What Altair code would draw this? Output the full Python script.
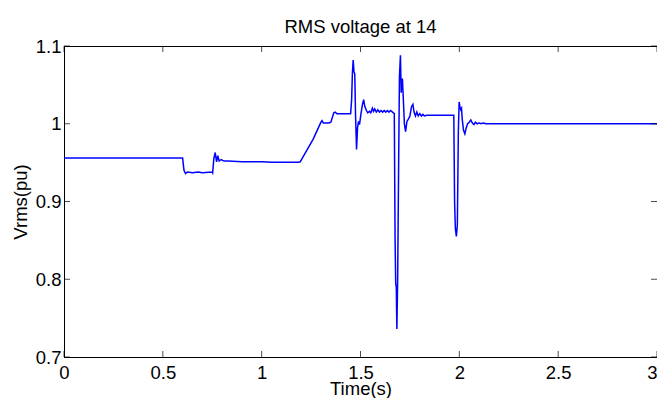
import altair as alt
import pandas as pd

# Time (s)
t = [0.000, 0.600, 0.607, 0.615, 0.625, 0.650, 0.680, 0.700, 0.750, 0.752,
     0.758, 0.765, 0.772, 0.778, 0.785, 0.795, 0.810, 0.830, 0.900, 1.000,
     1.050, 1.185, 1.195, 1.260, 1.300, 1.305, 1.312, 1.340, 1.350, 1.365,
     1.372, 1.380, 1.450, 1.455, 1.459, 1.463, 1.467, 1.471, 1.475, 1.480,
     1.485, 1.490, 1.495, 1.502, 1.510, 1.516, 1.522, 1.530, 1.537, 1.545,
     1.552, 1.560, 1.566, 1.572, 1.580, 1.588, 1.596, 1.604, 1.612, 1.620,
     1.628, 1.636, 1.644, 1.652, 1.662, 1.671, 1.675, 1.678, 1.681, 1.684,
     1.688, 1.693, 1.697, 1.702, 1.706, 1.709, 1.712, 1.717, 1.722, 1.728,
     1.735, 1.742, 1.750, 1.758, 1.765, 1.771, 1.778, 1.785, 1.792, 1.800,
     1.808, 1.816, 1.824, 1.835, 1.850, 1.900, 1.972, 1.976, 1.980, 1.985,
     1.990, 1.995, 1.999, 2.003, 2.007, 2.011, 2.015, 2.021, 2.028, 2.035,
     2.042, 2.050, 2.058, 2.066, 2.074, 2.082, 2.090, 2.100, 2.110, 2.120,
     2.135, 2.150, 2.200, 3.000]

# RMS voltage (pu)
v = [0.956, 0.956, 0.940, 0.936, 0.938, 0.937, 0.938, 0.937, 0.938, 0.937,
     0.955, 0.963, 0.951, 0.959, 0.952, 0.954, 0.952, 0.952, 0.951, 0.951,
     0.9505, 0.9505, 0.951, 0.980, 1.002, 1.004, 1.001, 1.001, 1.002, 1.014,
     1.015, 1.013, 1.013, 1.030, 1.065, 1.082, 1.067, 1.064, 1.010, 0.967,
     0.995, 1.003, 0.999, 1.012, 1.025, 1.031, 1.022, 1.017, 1.014, 1.016,
     1.014, 1.020, 1.016, 1.019, 1.015, 1.018, 1.015, 1.017, 1.015, 1.017,
     1.015, 1.017, 1.015, 1.017, 1.015, 1.013, 0.850, 0.795, 0.790, 0.736,
     0.800, 0.950, 1.060, 1.088, 1.040, 1.055, 1.058, 1.030, 1.000, 0.990,
     1.003, 1.006, 1.010, 1.022, 1.025, 1.015, 1.010, 1.015, 1.010, 1.013,
     1.010, 1.012, 1.010, 1.011, 1.011, 1.011, 1.011, 0.900, 0.865, 0.855,
     0.870, 0.990, 1.028, 1.022, 1.018, 1.020, 1.005, 0.992, 0.987, 0.995,
     1.000, 1.002, 1.005, 1.001, 0.999, 1.002, 1.000, 1.001, 1.000, 1.001,
     1.000, 1.000, 1.000, 1.000]

x_ticks = [0, 0.5, 1, 1.5, 2, 2.5, 3]
y_ticks = [0.7, 0.8, 0.9, 1.0, 1.1]

df = pd.DataFrame({"t": t, "v": v})
dfx = pd.DataFrame({"tx": x_ticks})
dfy = pd.DataFrame({"ty": y_ticks})

FONT = "Liberation Sans"
FS = 18.5
W, H = 593, 311

xscale = alt.Scale(domain=[0, 3], nice=False, zero=False)
yscale = alt.Scale(domain=[0.7, 1.1], nice=False, zero=False)

xaxis = alt.Axis(values=x_ticks, format="~g", title="Time(s)",
                 labelPadding=6, labelFlush=False,
                 labelAlign=alt.expr("datum.value >= 3 ? 'right' : 'center'"),
                 titleBaseline="alphabetic", titleX=W / 2, titleY=37)
yaxis = alt.Axis(values=y_ticks, format="~g", title="Vrms(pu)",
                 labelPadding=3, labelFlush=False,
                 titleBaseline="alphabetic", titleX=-38, titleY=H / 2)

line = alt.Chart(df).mark_line(color="#0000ff", strokeWidth=1.5).encode(
    x=alt.X("t:Q", scale=xscale, axis=xaxis),
    y=alt.Y("v:Q", scale=yscale, axis=yaxis),
)

tick_style = dict(color="black", thickness=1, size=6)

bottom_ticks = alt.Chart(dfx).mark_tick(orient="vertical", yOffset=-3, **tick_style).encode(
    x=alt.X("tx:Q", scale=xscale, axis=xaxis), y=alt.datum(0.7))
top_ticks = alt.Chart(dfx).mark_tick(orient="vertical", yOffset=3, **tick_style).encode(
    x=alt.X("tx:Q", scale=xscale, axis=xaxis), y=alt.datum(1.1))
left_ticks = alt.Chart(dfy).mark_tick(orient="horizontal", xOffset=3, **tick_style).encode(
    y=alt.Y("ty:Q", scale=yscale, axis=yaxis), x=alt.datum(0))
right_ticks = alt.Chart(dfy).mark_tick(orient="horizontal", xOffset=-3, **tick_style).encode(
    y=alt.Y("ty:Q", scale=yscale, axis=yaxis), x=alt.datum(3))

chart = alt.layer(line, bottom_ticks, top_ticks, left_ticks, right_ticks).properties(
    width=W, height=H,
    title=alt.TitleParams("RMS voltage at 14", font=FONT, fontSize=FS,
                          fontWeight="normal", color="black", anchor="middle",
                          frame="group", baseline="alphabetic", offset=-14),
    autosize=alt.AutoSizeParams(type="none"),
    padding={"left": 56, "top": 38, "right": 0, "bottom": 41},
).configure_axis(
    grid=False, ticks=False, domainColor="black", domainWidth=1,
    labelColor="black", titleColor="black", labelFont=FONT, titleFont=FONT,
    labelFontSize=FS, titleFontSize=FS, titleFontWeight="normal",
).configure_view(stroke="black", strokeWidth=1)

chart.save("out.html", embed_options={"renderer": "svg", "actions": False})
